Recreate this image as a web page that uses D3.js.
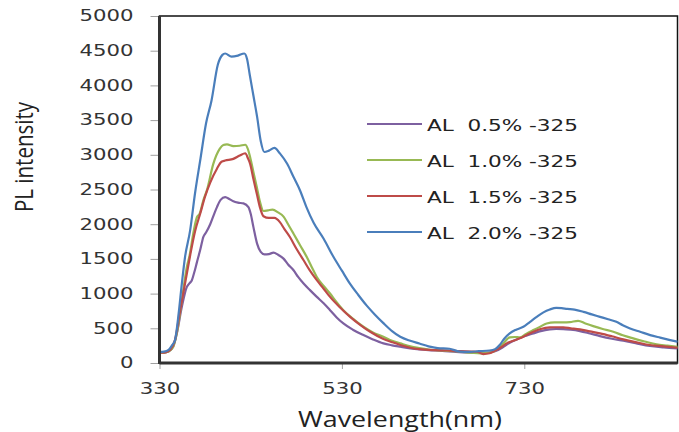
<!DOCTYPE html>
<html>
<head>
<meta charset="utf-8">
<script src="https://cdn.jsdelivr.net/npm/d3@7"></script>
<style>
  body { margin: 0; background: #fff; }
  svg { display: block; }
</style>
</head>
<body>
<svg id="chart"></svg>
<script>
// series names, in legend order
const seriesNames = ["AL  0.5% -325", "AL  1.0% -325", "AL  1.5% -325", "AL  2.0% -325"]
const seriesColors = ["#7d60a0", "#98b954", "#be4b48", "#4a7ebb"]

// [wavelength, intensity]
const al05 = [
  [330,150],[335,150],[340,165],[345,234],[349,427],[354.5,809],[360,1097],[363,1150],[365.5,1193],
  [368,1300],[371,1450],[375,1650],[378,1815],[381,1880],[385.6,2000],[390,2150],[393,2246],[397,2350],
  [402,2390],[407,2360],[411,2330],[416,2310],[422,2300],[427.5,2246],[430,2150],[433,1958],[437,1720],
  [441,1600],[445,1565],[450,1570],[455,1590],[460,1560],[466,1504],[471,1420],[477,1336],[482,1240],
  [488,1145],[495,1050],[502.5,953],[510,860],[517,761],[524,660],[531.6,570],[542,480],[553.6,402],
  [564,340],[575.5,283],[585,255],[594,234],[605,210],[615,195],[625,185],[640,175],[655,160],[670,150],
  [685,145],[698,170],[708,240],[715,300],[721.6,340],[730,385],[740,427],[748,460],[758,484],[765,490],
  [772.7,489],[781,480],[791,460],[802,425],[813,388],[826,350],[838.6,320],[852,285],[867.7,245],
  [883,225],[898,210]
]
const al10 = [
  [330,150],[335,150],[340,165],[345,234],[349,427],[354.5,905],[360,1384],[363,1550],[367,1863],
  [371,2100],[374,2150],[378,2342],[382,2490],[389,2869],[396,3085],[400,3140],[404,3150],[411,3125],
  [418,3130],[424,3145],[427,3080],[429.4,2964],[433,2750],[436.7,2533],[440,2330],[444,2190],[449,2200],
  [454,2210],[460,2170],[466,2110],[471,2000],[477,1863],[484,1700],[491.5,1527],[497,1380],[502.5,1240],
  [510,1110],[517,1001],[524,880],[531.6,761],[542,640],[553.6,522],[564,440],[575.5,378],[585,320],
  [594,283],[605,240],[615,215],[625,195],[640,180],[655,170],[670,150],[685,140],[696,162],[700,200],
  [707,283],[714,369],[720,375],[725,369],[732,420],[740,474],[747,520],[754.5,570],[763,585],[772.7,585],
  [780,590],[789,608],[797,570],[805.6,532],[816,490],[827.6,450],[838,400],[849.5,355],[862,310],
  [875,268],[887,250],[898,234]
]
const al15 = [
  [330,150],[335,150],[338,160],[341.7,190],[347,330],[352.7,761],[358,1145],[363.6,1550],[369,1900],
  [374.6,2150],[380,2400],[385.6,2600],[393,2800],[398,2900],[402,2917],[411,2941],[418,2989],[424,3022],
  [427,2950],[429.4,2869],[433,2650],[436.7,2438],[440,2250],[444,2115],[450,2090],[456,2090],[462,2030],
  [467,1930],[473,1815],[480,1650],[488,1480],[495,1330],[502.5,1193],[510,1070],[517,953],[528,800],
  [539,665],[550,550],[561,450],[575,350],[585,300],[594,259],[605,220],[615,200],[630,185],[645,180],
  [660,170],[672,165],[678,162],[685,129],[692,140],[698,180],[705,230],[710.7,283],[718,320],[725,355],
  [732,400],[740,450],[748,490],[758,513],[765,515],[772.7,513],[781,500],[791,484],[802,455],[813,427],
  [826,385],[838.6,340],[852,300],[867.7,259],[883,240],[898,220]
]
const al20 = [
  [330,160],[335,165],[340,190],[344,260],[347,330],[351,714],[354.5,1145],[358,1527],[363.6,1911],
  [369,2450],[375,2950],[381,3450],[387,3780],[394,4300],[399,4440],[402,4460],[409,4415],[416,4430],
  [423,4460],[426,4380],[429,4150],[433,3850],[437,3550],[441,3200],[445,3040],[450,3060],[456,3100],
  [462,3020],[470,2870],[477,2680],[484,2490],[491,2250],[499,2020],[510,1790],[520.7,1530],[530,1330],
  [539,1140],[548,980],[557,830],[566,700],[575.5,575],[585,460],[594,378],[605,320],[615,280],[625,240],
  [635,215],[648,205],[659,165],[670,160],[680,170],[692,180],[698,200],[703,259],[708,350],[714,427],
  [721,480],[729,522],[736,590],[743.6,665],[751,730],[758,771],[765,795],[771,790],[777,780],[785,770],
  [795,737],[804,700],[813,665],[822,630],[831,593],[838,545],[846,498],[857,450],[868,402],[879,365],
  [890,330],[898,306]
]
const seriesData = [al05, al10, al15, al20]

const xTicks = [330, 530, 730]
const yTicks = [0, 500, 1000, 1500, 2000, 2500, 3000, 3500, 4000, 4500, 5000]

const svgWidth = 679
const svgHeight = 432
const plot = {left: 159.5, right: 677.5, top: 16, bottom: 363}

const svg = d3.select("#chart")
  .attr("width", svgWidth)
  .attr("height", svgHeight)

const xScale = d3.scaleLinear()
  .domain([330, 898])
  .range([plot.left, plot.right])

const yScale = d3.scaleLinear()
  .domain([0, 5000])
  .range([plot.bottom, plot.top])

const digitWidth = 13.5 // tick labels in the picture are wide
const fmt = d3.format("d")

// y axis ticks + labels
const yAxis = svg.append("g")
  .attr("transform", `translate(${plot.left}, 0)`)
  .call(d3.axisLeft(yScale).tickValues(yTicks).tickFormat(fmt).tickSize(9).tickPadding(17))
yAxis.select(".domain").remove()
yAxis.selectAll("line").attr("stroke", "#a0a0a0").attr("stroke-width", 1)
yAxis.selectAll("text")
  .attr("font-family", "DejaVu Sans")
  .attr("font-size", 15)
  .attr("fill", "#333")
  .attr("textLength", d => fmt(d).length * digitWidth)
  .attr("lengthAdjust", "spacingAndGlyphs")

// x axis ticks + labels
const xAxis = svg.append("g")
  .attr("transform", `translate(0, ${plot.bottom})`)
  .call(d3.axisBottom(xScale).tickValues(xTicks).tickFormat(fmt).tickSize(6).tickPadding(14))
xAxis.select(".domain").remove()
xAxis.selectAll("line").attr("stroke", "#a0a0a0").attr("stroke-width", 1)
xAxis.selectAll("text")
  .attr("font-family", "DejaVu Sans")
  .attr("font-size", 15)
  .attr("fill", "#333")
  .attr("textLength", d => fmt(d).length * digitWidth)
  .attr("lengthAdjust", "spacingAndGlyphs")

// plot frame
svg.append("rect")
  .attr("x", plot.left)
  .attr("y", plot.top)
  .attr("width", plot.right - plot.left)
  .attr("height", plot.bottom - plot.top)
  .attr("fill", "none")
  .attr("stroke", "#111")
  .attr("stroke-width", 1.5)

// lines
const line = d3.line()
  .x(d => xScale(d[0]))
  .y(d => yScale(d[1]))
  .curve(d3.curveMonotoneX)

svg.append("g")
  .selectAll("path")
  .data(seriesData)
  .join("path")
  .attr("d", d => line(d))
  .attr("fill", "none")
  .attr("stroke", (d, i) => seriesColors[i])
  .attr("stroke-width", 2.2)
  .attr("stroke-linejoin", "round")

// thick left and bottom axis lines
svg.append("line")
  .attr("x1", plot.left).attr("x2", plot.left)
  .attr("y1", plot.top).attr("y2", plot.bottom + 1)
  .attr("stroke", "#333").attr("stroke-width", 3)
svg.append("line")
  .attr("x1", plot.left).attr("x2", plot.right)
  .attr("y1", plot.bottom).attr("y2", plot.bottom)
  .attr("stroke", "#333").attr("stroke-width", 3)

// legend
const legend = svg.append("g")
  .selectAll("g")
  .data(seriesNames)
  .join("g")
  .attr("transform", (d, i) => `translate(367, ${124 + i * 36})`)
legend.append("line")
  .attr("x1", 0).attr("x2", 55)
  .attr("stroke", (d, i) => seriesColors[i])
  .attr("stroke-width", 2)
legend.append("text")
  .attr("x", 60)
  .attr("y", 6.5)
  .attr("font-family", "DejaVu Sans")
  .attr("font-size", 15)
  .attr("fill", "#222")
  .style("white-space", "pre")
  .attr("textLength", 151)
  .attr("lengthAdjust", "spacingAndGlyphs")
  .text(d => d)

// axis titles
svg.append("text")
  .attr("x", 400)
  .attr("y", 427)
  .attr("text-anchor", "middle")
  .attr("font-family", "Open Sans")
  .attr("font-size", 22)
  .attr("fill", "#222")
  .attr("textLength", 204)
  .attr("lengthAdjust", "spacingAndGlyphs")
  .text("Wavelength(nm)")

svg.append("text")
  .attr("transform", "translate(33, 157) rotate(-90)")
  .attr("text-anchor", "middle")
  .attr("font-family", "Open Sans")
  .attr("font-size", 26)
  .attr("fill", "#222")
  .attr("textLength", 110)
  .attr("lengthAdjust", "spacingAndGlyphs")
  .text("PL intensity")
</script>
</body>
</html>
